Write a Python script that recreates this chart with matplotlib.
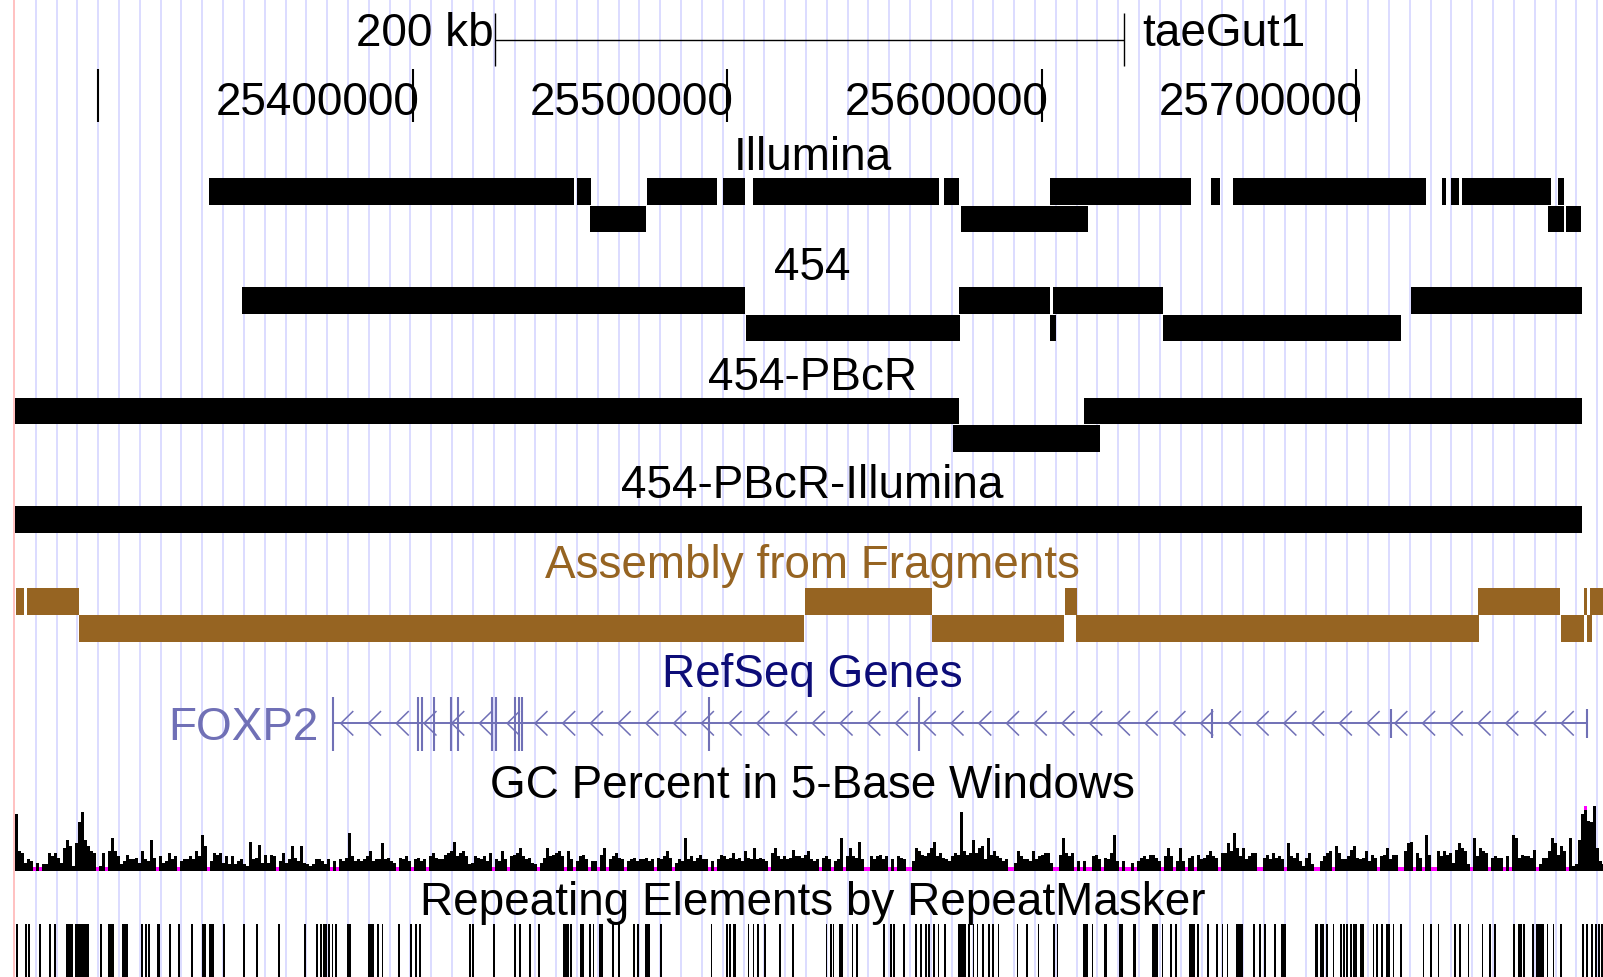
import matplotlib
matplotlib.use('Agg')
import matplotlib.pyplot as plt
import numpy as np

plt.rcParams['font.family'] = ['Liberation Sans', 'DejaVu Sans']

# visible window on the chromosome, in kb (taeGut1)
x_lo, x_hi = 25268.68, 25778.39

ruler_ticks = [25300, 25400, 25500, 25600, 25700]
ruler_labels = ['', '25400000', '25500000', '25600000', '25700000']
scale_bar = (25426.0, 25626.0)

# alignment blocks, (start kb, end kb), one list per packed row
illumina = [
    [(25335.14, 25451.19), (25452.15, 25456.60), (25474.41, 25496.66), (25498.73, 25505.57),
     (25508.11, 25567.19), (25568.84, 25573.61), (25602.52, 25647.29), (25653.74, 25656.60),
     (25660.64, 25722.11), (25727.35, 25728.62), (25730.05, 25732.60), (25733.55, 25761.72),
     (25764.08, 25766.14)],
    [(25456.28, 25474.09), (25574.19, 25614.57), (25760.90, 25765.99), (25766.78, 25771.39)],
]
r454 = [
    [(25345.63, 25505.57), (25573.52, 25602.52), (25603.50, 25638.48), (25717.34, 25771.84)],
    [(25505.89, 25573.87), (25602.55, 25604.46), (25638.48, 25714.03)],
]
r454_pbcr = [
    [(25273.54, 25573.61), (25613.23, 25771.87)],
    [(25571.64, 25618.45)],
]
r454_pbcr_ill = [
    [(25273.54, 25771.87)],
]
frags = [
    [(25273.70, 25276.47), (25277.11, 25293.80), (25524.65, 25565.03), (25607.22, 25611.13),
     (25738.77, 25764.65), (25772.47, 25773.30), (25774.13, 25780.0)],
    [(25293.80, 25524.33), (25565.03, 25607.06), (25610.97, 25738.96), (25765.16, 25772.34),
     (25773.30, 25774.89)],
]

# FOXP2 (minus strand)
gene_span = (25374.47, 25773.30)
gene_exons = [25374.47, 25401.59, 25402.99, 25406.58, 25412.24, 25414.22, 25425.12,
              25426.39, 25432.43, 25433.71, 25434.66, 25494.12, 25560.83]
gene_utr = [25654.06, 25710.98, 25773.30]

# GC percent, one value per ~0.95 kb bin starting at gc_start
gc_start, gc_step = 25273.45, 0.954
gc_pct = [
    65, 42, 41, 35, 37, 36, 25, 35, 25, 34, 34, 41, 39, 41, 38, 35, 44, 49, 45, 33,
    47, 60, 66, 49, 45, 42, 41, 25, 33, 41, 25, 42, 50, 42, 39, 34, 36, 40, 37, 37,
    38, 35, 42, 37, 36, 49, 38, 25, 39, 35, 36, 41, 37, 39, 25, 36, 37, 37, 39, 37,
    42, 39, 52, 45, 25, 36, 41, 40, 41, 35, 39, 34, 39, 34, 36, 37, 34, 33, 48, 37,
    38, 46, 35, 40, 35, 40, 39, 25, 36, 41, 35, 37, 45, 38, 36, 45, 35, 34, 33, 34,
    37, 37, 36, 34, 37,
    25, 36, 25, 37, 36, 38, 53, 39, 36, 37, 36, 37, 39, 42, 36, 37, 37, 47, 37, 38,
    36, 35, 25, 38, 37, 39, 36, 25, 37, 38, 36, 37, 25, 39, 41, 38, 37, 37, 40, 41,
    42, 48, 39, 41, 42, 39, 34, 35, 39, 38, 37, 39, 36, 41, 25, 37, 36, 42, 37, 25,
    39, 40, 41, 44, 39, 37, 38, 35, 34, 25, 35, 38, 44, 39, 40, 41, 42, 39, 25, 42,
    37, 25, 36, 39, 40, 37, 25, 36, 36, 25, 40, 44, 25, 37, 39, 41, 38, 37, 25, 36,
    37, 38, 36, 37,
    37, 38, 36, 37, 25, 38, 37, 39, 42, 38, 25, 35, 37, 36, 50, 37, 39, 36, 38, 40,
    37, 37, 25, 36, 25, 37, 40, 39, 37, 38, 41, 37, 38, 36, 42, 38, 37, 44, 37, 38,
    37, 36, 25, 41, 44, 39, 37, 39, 37, 38, 43, 39, 39, 38, 40, 42, 37, 36, 37, 25,
    38, 39, 37, 25, 36, 37, 50, 25, 39, 44, 39, 38, 48, 37, 25, 25, 39, 37, 39, 40,
    37, 39, 25, 37, 25, 39, 38, 37, 25, 25, 36, 44, 42, 40, 39, 41, 44, 48, 39, 41,
    38, 37, 36, 39, 41, 40, 66, 42, 40,
    41, 49, 41, 44, 45, 37, 50, 40, 42, 39, 38, 36, 37, 25, 25, 35, 42, 39, 37, 37,
    36, 42, 37, 39, 40, 41, 41, 35, 25, 25, 40, 50, 41, 39, 41, 25, 36, 25, 36, 25,
    25, 39, 40, 37, 25, 38, 37, 41, 52, 36, 25, 36, 25, 25, 35, 25, 36, 38, 39, 37,
    40, 40, 38, 36, 25, 39, 44, 39, 25, 36, 44, 36, 25, 38, 39, 25, 40, 37, 38, 40,
    42, 39, 38, 25, 41, 41, 47, 42, 53, 44, 39, 44, 37, 39, 41, 41, 25, 25, 38, 40,
    37, 41, 38, 39, 37, 25, 47,
    39, 38, 41, 36, 33, 38, 41, 34, 25, 25, 36, 39, 41, 42, 25, 45, 41, 37, 37, 39,
    43, 45, 38, 37, 38, 42, 36, 40, 38, 25, 39, 40, 44, 37, 40, 40, 25, 25, 42, 47,
    48, 25, 41, 38, 25, 52, 40, 25, 25, 42, 39, 42, 40, 41, 35, 43, 47, 44, 42, 34,
    25, 50, 39, 44, 42, 41, 25, 38, 39, 38, 38, 25, 39, 25, 52, 50, 38, 40, 39, 39,
    38, 43, 25, 34, 38, 38, 42, 50, 47, 40, 45, 42, 25, 50, 33, 34, 49, 65, 75, 61,
    60, 70, 44, 36, 34,
]

# RepeatMasker elements (start kb, end kb)
rmsk = [
    (25273.77, 25274.40), (25276.63, 25277.17), (25277.68, 25278.22), (25281.08, 25281.62),
    (25284.26, 25284.80), (25285.85, 25286.39), (25289.67, 25291.99), (25292.53, 25296.98),
    (25300.48, 25301.02), (25303.02, 25304.93), (25307.47, 25309.38), (25313.51, 25314.05),
    (25314.79, 25315.33), (25315.74, 25316.28), (25318.60, 25319.46), (25322.42, 25322.96),
    (25325.28, 25325.82), (25329.41, 25329.95), (25332.91, 25334.18), (25335.14, 25336.63),
    (25339.59, 25340.13), (25345.95, 25346.49), (25350.08, 25350.62), (25357.08, 25357.62),
    (25365.34, 25365.88), (25369.16, 25369.70), (25370.43, 25370.97), (25371.38, 25372.66),
    (25373.07, 25373.61), (25374.15, 25374.66), (25375.20, 25375.74), (25379.11, 25380.29),
    (25385.79, 25387.60), (25388.46, 25389.29), (25390.05, 25390.56), (25395.33, 25395.87),
    (25399.05, 25399.59), (25400.64, 25401.18), (25401.81, 25402.45), (25417.81, 25418.35),
    (25418.86, 25419.40), (25425.44, 25425.98), (25432.21, 25432.75), (25433.71, 25434.25),
    (25436.89, 25437.43), (25439.84, 25440.38), (25447.79, 25449.61), (25449.92, 25450.46),
    (25453.10, 25454.37), (25456.06, 25456.60), (25457.14, 25457.65), (25459.24, 25460.51),
    (25463.37, 25463.91), (25465.28, 25465.82), (25470.05, 25470.59), (25471.32, 25471.86),
    (25473.77, 25475.36), (25478.54, 25479.08), (25494.66, 25495.17), (25499.53, 25500.07),
    (25500.48, 25501.12), (25501.75, 25502.61), (25506.43, 25506.94), (25508.02, 25508.52),
    (25509.38, 25510.02), (25511.61, 25512.25), (25516.38, 25517.01), (25520.51, 25521.15),
    (25531.23, 25531.74), (25532.60, 25533.13), (25533.45, 25533.96), (25535.46, 25536.82),
    (25539.49, 25540.00), (25540.86, 25541.59), (25549.45, 25550.08), (25551.67, 25552.21),
    (25552.63, 25553.26), (25555.81, 25556.44), (25559.62, 25560.16), (25561.21, 25561.75),
    (25562.80, 25563.34), (25563.76, 25564.39), (25565.35, 25565.98), (25566.84, 25567.35),
    (25568.84, 25569.38), (25573.30, 25575.84), (25576.57, 25577.11), (25577.97, 25578.48),
    (25579.24, 25579.75), (25581.02, 25581.56), (25582.93, 25583.47), (25584.20, 25584.74),
    (25585.92, 25586.43), (25591.96, 25592.47), (25594.92, 25595.46), (25598.64, 25599.15),
    (25603.41, 25604.14), (25604.68, 25605.19), (25613.04, 25614.73), (25615.81, 25616.32),
    (25619.81, 25620.58), (25624.49, 25625.67), (25628.94, 25629.80), (25634.98, 25636.98),
    (25638.07, 25638.58), (25640.70, 25641.24), (25642.29, 25642.83), (25646.75, 25648.65),
    (25649.29, 25649.93), (25652.47, 25653.11), (25655.33, 25655.87), (25657.14, 25657.65),
    (25658.73, 25659.24), (25661.69, 25664.01), (25667.10, 25667.73), (25669.00, 25669.54),
    (25670.59, 25671.13), (25673.78, 25674.32), (25675.90, 25677.49), (25686.81, 25687.86),
    (25688.40, 25689.67), (25690.31, 25690.85), (25692.44, 25692.95), (25694.76, 25695.30),
    (25695.81, 25696.35), (25696.76, 25697.40), (25698.03, 25698.58), (25698.99, 25700.17),
    (25701.12, 25702.49), (25705.16, 25705.66), (25706.21, 25706.75), (25707.80, 25708.34),
    (25709.39, 25710.66), (25711.52, 25712.03), (25713.84, 25714.38), (25721.06, 25721.57),
    (25723.38, 25723.92), (25725.83, 25726.34), (25731.01, 25731.55), (25732.60, 25733.14),
    (25735.37, 25735.87), (25739.82, 25740.33), (25742.14, 25742.68), (25743.73, 25744.27),
    (25749.67, 25750.40), (25751.26, 25752.53), (25753.04, 25753.58), (25755.90, 25756.44),
    (25757.08, 25759.61), (25760.48, 25760.99), (25762.39, 25762.89), (25764.71, 25765.25),
    (25771.61, 25772.44), (25772.98, 25773.52), (25774.57, 25775.11), (25775.84, 25776.38),
    (25776.89, 25777.43), (25777.75, 25779.00),
]

BROWN = '#966422'
GENE = '#7070b6'
FS = 33
W, H = 1603, 978

fig = plt.figure(figsize=(W / 100, H / 100), dpi=100)
ax = fig.add_axes([0, 0, 1, 1])
ax.set_xlim(x_lo, x_hi)
ax.set_ylim(H, 0)
ax.axis('off')

kb_per_px = (x_hi - x_lo) / W
mid = 25527.0

# guidelines + left edge
ax.vlines(np.arange(25280.03, x_hi, 6.620), 0, H, color='#dcdcff', lw=1.4, zorder=0)
ax.vlines(x_lo + 13.8 * kb_per_px, 0, H, color='#ffb0b0', lw=1.1, zorder=1)

# scale bar
ax.hlines(41, scale_bar[0], scale_bar[1], color='black', lw=1.0)
ax.vlines(scale_bar, 14, 67, color='black', lw=1.0)
ax.text(scale_bar[0] - 0.4, 46.5, '200 kb', fontsize=FS, ha='right', va='baseline')
ax.text(scale_bar[1] + 5.8, 46, 'taeGut1', fontsize=FS, ha='left', va='baseline')

# base position ruler
ax.vlines(ruler_ticks, 70, 123, color='black', lw=1.5)
for t, lab in zip(ruler_ticks, ruler_labels):
    ax.text(t + 2.0, 115, lab, fontsize=FS, ha='right', va='baseline')

titles = [('Illumina', 170, 'black'), ('454', 280, 'black'), ('454-PBcR', 389.5, 'black'),
          ('454-PBcR-Illumina', 498.5, 'black'), ('Assembly from Fragments', 578, BROWN),
          ('RefSeq Genes', 686.7, '#0c0c78'), ('GC Percent in 5-Base Windows', 798, 'black'),
          ('Repeating Elements by RepeatMasker', 915, 'black')]
for s, y, c in titles:
    ax.text(mid, y, s, fontsize=FS, color=c, ha='center', va='baseline')


def draw_rows(rows, top, color, pitch=27.5, h=26.5):
    for i, row in enumerate(rows):
        segs = [(a, b - a) for a, b in row]
        ax.broken_barh(segs, (top + i * pitch, h), facecolors=color, linewidth=0)


draw_rows(illumina, 179, 'black')
draw_rows(r454, 288, 'black')
draw_rows(r454_pbcr, 398.5, 'black')
draw_rows(r454_pbcr_ill, 507, 'black')
draw_rows(frags, 589, BROWN, pitch=27)

# gene
yc = 724.3
ax.text(x_lo + 318 * kb_per_px, 740, 'FOXP2', fontsize=FS, color=GENE, ha='right', va='baseline')
ax.hlines(yc, gene_span[0], gene_span[1], color=GENE, lw=1.4)
ax.vlines(gene_exons, 697.7, 751.7, color=GENE, lw=1.5)
ax.vlines(gene_utr, 710, 739, color=GENE, lw=1.5)
cw, ch = 3.8, 11.7
for tip in np.arange(25377.04, gene_span[1] - 4, 8.82):
    ax.plot([tip + cw, tip, tip + cw], [yc - ch, yc, yc + ch], color=GENE, lw=1.1,
            solid_joinstyle='miter')

# repeats
ax.broken_barh([(a, b - a) for a, b in rmsk], (925, 60), facecolors='black', linewidth=0)

# GC percent track on its own scale (30-70)
base_px, top_px = 871.7, 807.0
axg = fig.add_axes([0, 1 - base_px / H, 1, (base_px - top_px) / H])
axg.set_xlim(x_lo, x_hi)
axg.set_ylim(30, 70)
axg.axis('off')
axg.patch.set_alpha(0)
gc = np.array(gc_pct, float)
gx = gc_start + gc_step * np.arange(len(gc))
low = gc < 30
high = gc > 70
axg.bar(gx[~low], np.minimum(gc[~low], 70) - 30, bottom=30, width=gc_step, align='edge',
        color='black', linewidth=0, antialiased=False)
axg.bar(gx[low], 2.3, bottom=30, width=gc_step, align='edge', color='#ff00ff',
        linewidth=0, antialiased=False)
axg.bar(gx[high], 2.3, bottom=67.7, width=gc_step, align='edge', color='#ff00ff',
        linewidth=0, antialiased=False)

fig.savefig('out.png', dpi=100)
